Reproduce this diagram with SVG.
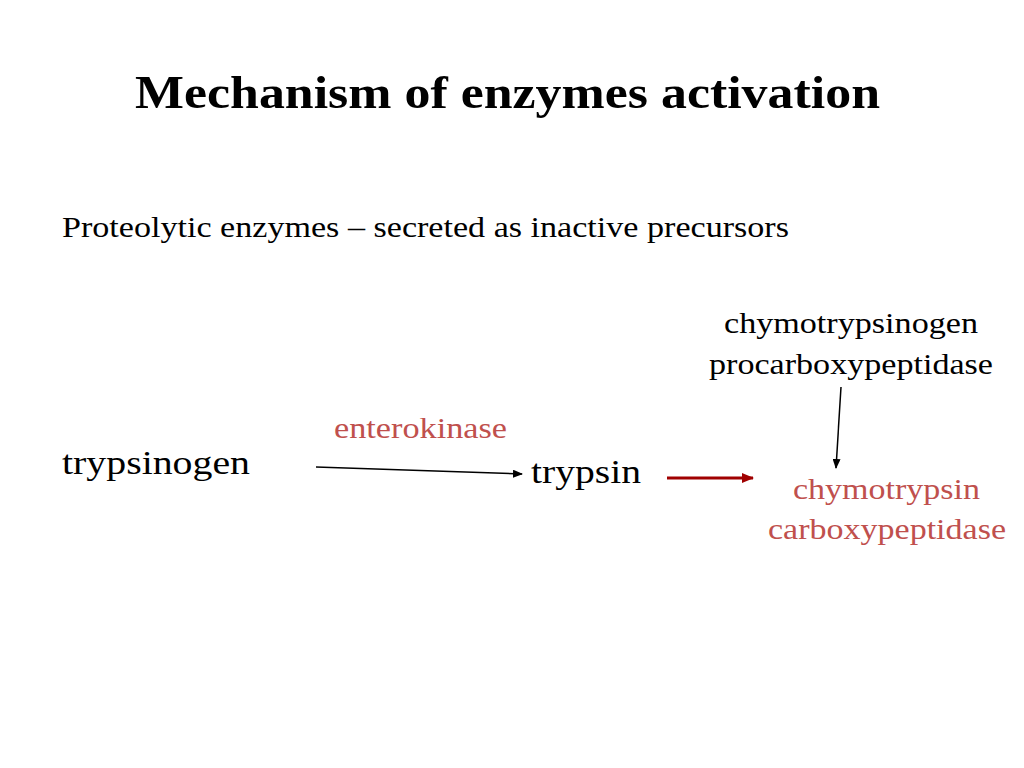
<svg xmlns="http://www.w3.org/2000/svg" width="1024" height="768" viewBox="0 0 1024 768">
<style>
text{font-family:"Liberation Serif","Times New Roman",serif;fill:#000}
.r{fill:#c0504d}
</style>
<defs>
<marker id="ab" markerWidth="10" markerHeight="8" refX="9" refY="4" orient="auto" markerUnits="userSpaceOnUse"><path d="M0,0 L10,4 L0,8 Z" fill="#000"/></marker>
<marker id="ar" markerWidth="12" markerHeight="10" refX="11" refY="5" orient="auto" markerUnits="userSpaceOnUse"><path d="M0,0 L12,5 L0,10 Z" fill="#a00000"/></marker>
</defs>
<rect width="1024" height="768" fill="#fff"/>
<text x="135" y="108" font-size="47" font-weight="bold" textLength="745" lengthAdjust="spacingAndGlyphs">Mechanism of enzymes  activation</text>
<text x="62" y="237" font-size="29" textLength="727" lengthAdjust="spacingAndGlyphs">Proteolytic enzymes – secreted as inactive precursors</text>
<g id="precursors"><text x="724" y="333" font-size="29" textLength="254" lengthAdjust="spacingAndGlyphs">chymotrypsinogen</text>
<text x="709" y="374" font-size="29" textLength="284" lengthAdjust="spacingAndGlyphs">procarboxypeptidase</text></g>
<g id="enterokinase"><text x="334" y="438" font-size="29" class="r" textLength="173" lengthAdjust="spacingAndGlyphs">enterokinase</text></g>
<g id="trypsinogen"><text x="62" y="474" font-size="34" textLength="188" lengthAdjust="spacingAndGlyphs">trypsinogen</text></g>
<g id="trypsin"><text x="531" y="483" font-size="34" textLength="110" lengthAdjust="spacingAndGlyphs">trypsin</text></g>
<g id="products"><text x="793" y="499" font-size="29" class="r" textLength="187" lengthAdjust="spacingAndGlyphs">chymotrypsin</text>
<text x="768" y="539" font-size="29" class="r" textLength="238" lengthAdjust="spacingAndGlyphs">carboxypeptidase</text></g>
<g id="connectors" fill="none">
<line x1="316" y1="467" x2="522" y2="474" stroke="#000" stroke-width="1.5" marker-end="url(#ab)"/>
<line x1="667" y1="478" x2="753" y2="478" stroke="#a00000" stroke-width="3" marker-end="url(#ar)"/>
<line x1="841" y1="387" x2="836" y2="468" stroke="#000" stroke-width="1.5" marker-end="url(#ab)"/>
</g>
</svg>
